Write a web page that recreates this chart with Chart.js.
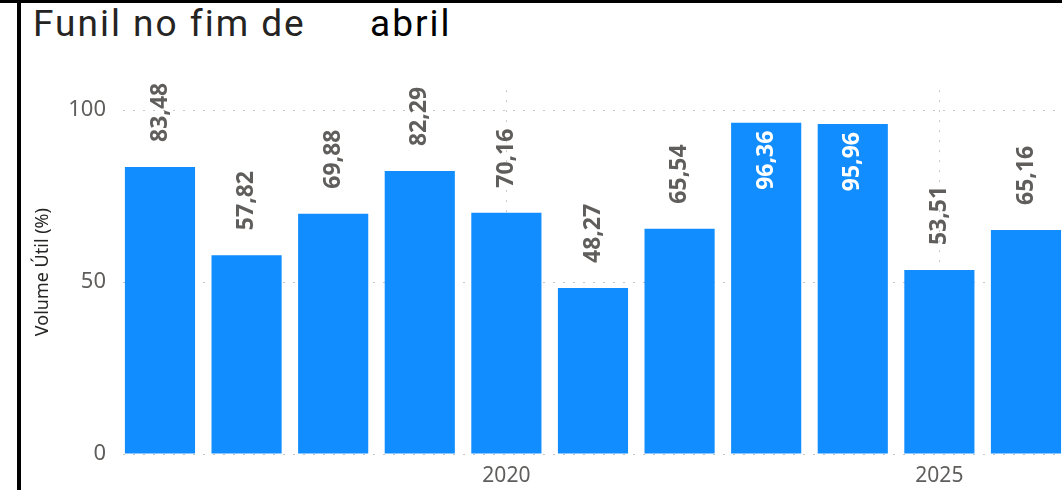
<!DOCTYPE html>
<html>
<head>
<meta charset="utf-8">
<script src="https://cdn.jsdelivr.net/npm/chart.js@4/dist/chart.umd.min.js"></script>
<style>
  html, body { margin: 0; padding: 0; background: #fff; overflow: hidden; }
  #frame { position: absolute; left: 0; top: 0; width: 1062px; height: 490px; border-top: 3px solid #000; box-sizing: border-box; }
  #leftBar { position: absolute; left: 17px; top: 0; width: 4px; height: 490px; background: #000; }
  #title { position: absolute; left: 33px; top: 2px; font-family: Roboto, sans-serif; font-size: 37px; letter-spacing: 2px; white-space: nowrap; }
  #title .a { color: #252423; }
  #title .b { color: #000; position: absolute; left: 337px; top: 0; }
  #wrap { position: absolute; left: 22px; top: 60px; width: 1040px; height: 430px; }
</style>
</head>
<body>
<div id="frame"></div>
<div id="leftBar"></div>
<div id="title"><span class="a">Funil no fim de</span><span class="b">abril</span></div>
<div id="wrap"><canvas id="chart"></canvas></div>
<script>
// anos e volume util (%) no fim de abril
var years = [2016, 2017, 2018, 2019, 2020, 2021, 2022, 2023, 2024, 2025, 2026];
var values = [83.48, 57.82, 69.88, 82.29, 70.16, 48.27, 65.54, 96.36, 95.96, 53.51, 65.16];
var yTicks = [0, 50, 100];
var xTicks = [2020, 2025];

var points = years.map(function(yr, i){ return {x: yr, y: values[i]}; });

var valueLabels = {
    id: 'valueLabels',
    afterDatasetsDraw: function(chart){
        var ctx = chart.ctx;
        var meta = chart.getDatasetMeta(0);
        ctx.save();
        ctx.font = 'bold 23px "Noto Sans"';
        meta.data.forEach(function(bar, i){
            var txt = values[i].toFixed(2).replace('.', ',');
            var w = ctx.measureText(txt).width;
            var inside = bar.y - 25 - w < chart.chartArea.top - 20;
            ctx.save();
            ctx.translate(bar.x, bar.y);
            ctx.rotate(-Math.PI / 2);
            ctx.textBaseline = 'middle';
            if(inside){
                ctx.fillStyle = '#ffffff';
                ctx.textAlign = 'right';
                ctx.fillText(txt, -8, 0);
            } else {
                ctx.fillStyle = '#605E5C';
                ctx.textAlign = 'left';
                ctx.fillText(txt, 25, 0);
            }
            ctx.restore();
        });
        ctx.restore();
    }
};

new Chart(document.getElementById('chart').getContext('2d'), {
    type: 'bar',
    data: {
        datasets: [{
            data: points,
            backgroundColor: '#118DFF',
            categoryPercentage: 1,
            barPercentage: 0.81
        }]
    },
    options: {
        responsive: true,
        maintainAspectRatio: false,
        animation: false,
        layout: { padding: { top: 25, right: 0, left: 0, bottom: 0 } },
        plugins: { legend: { display: false }, tooltip: { enabled: false } },
        scales: {
            x: {
                type: 'linear',
                min: 2015.573,
                max: 2026.416,
                offset: false,
                afterBuildTicks: function(axis){
                    axis.ticks = xTicks.map(function(v){ return {value: v}; });
                },
                afterFit: function(axis){ axis.height = 36; },
                ticks: {
                    padding: 9,
                    color: '#605E5C',
                    font: { family: '"Noto Sans"', size: 21 },
                    callback: function(v){ return String(v); }
                },
                grid: { color: '#c8c6c4', lineWidth: 1, drawTicks: false, offset: false },
                border: { display: false, dash: [2, 8] }
            },
            y: {
                min: 0,
                max: 105.8,
                afterBuildTicks: function(axis){
                    axis.ticks = yTicks.map(function(v){ return {value: v}; });
                },
                afterFit: function(axis){ axis.width = 101; },
                ticks: {
                    padding: 17,
                    color: '#605E5C',
                    font: { family: '"Noto Sans"', size: 22 }
                },
                grid: { color: '#c8c6c4', lineWidth: 1, drawTicks: false },
                border: { display: false, dash: [2, 8] },
                title: {
                    display: true,
                    text: 'Volume Útil (%)',
                    color: '#252423',
                    padding: { top: 10, bottom: 0 },
                    font: { family: '"Noto Sans"', size: 18 }
                }
            }
        }
    },
    plugins: [valueLabels]
});
</script>
</body>
</html>
